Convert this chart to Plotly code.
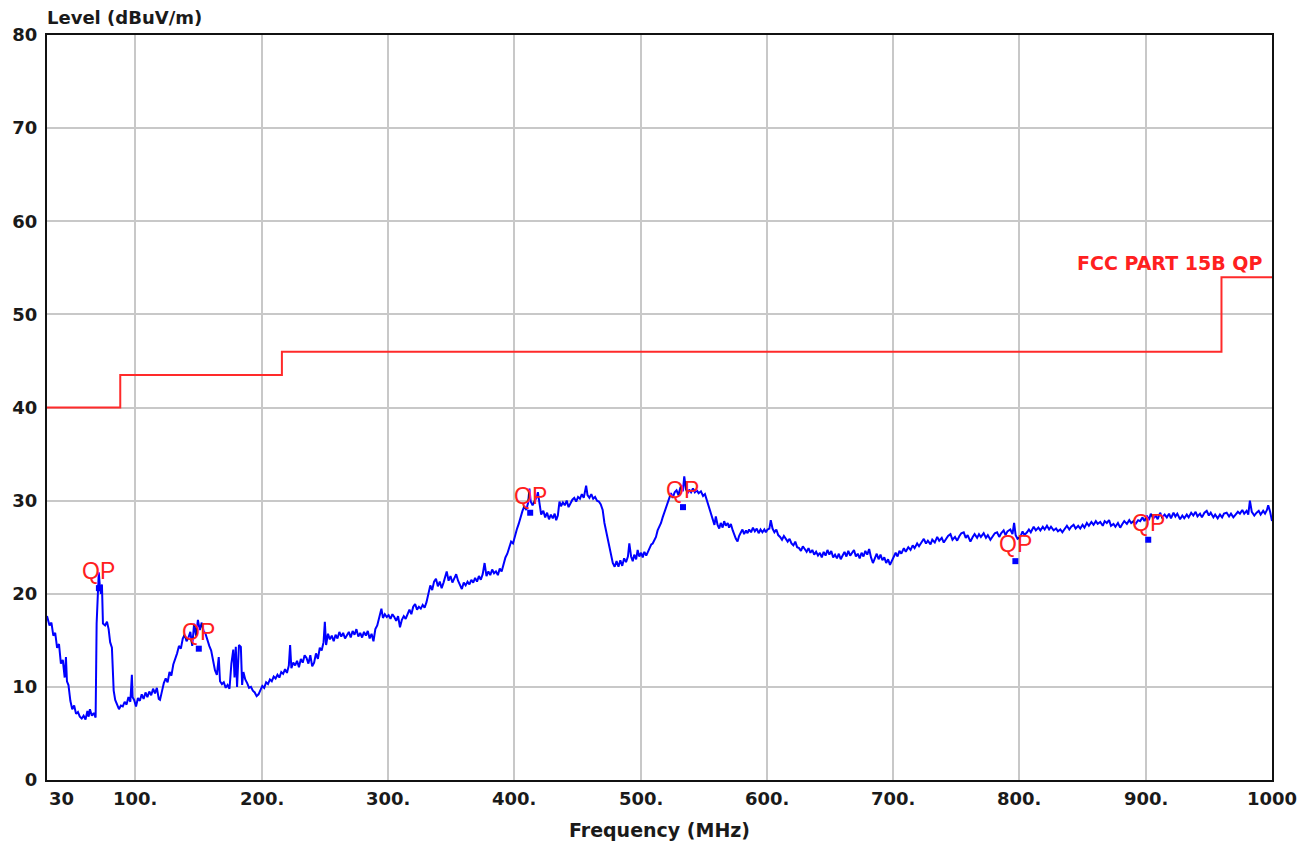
import plotly.graph_objects as go

# Peak scan of radiated emission, 30 MHz - 1 GHz (MHz / dBuV/m)
scan_freq = [
    30, 30.5, 32, 33.5, 35, 36.5, 38, 39.5, 41, 42.5, 44,
    45, 45.8, 47, 48.5, 50, 51.5, 53, 54.5, 56, 57.5,
    59, 60.5, 62, 63, 64, 65.5, 67, 68.5, 69.3, 70.2,
    71, 71.8, 72.7, 73.5, 74.3, 76, 77.5, 78.8, 80, 81.4,
    82.2, 82.8, 84, 85.5, 87, 88.5, 90, 91.5, 93, 94.5,
    96, 97.2, 97.8, 99, 100.5, 102, 103.5, 105, 106.5, 108,
    109.5, 111, 112.5, 114, 115.5, 117, 118.5, 119.5, 121, 122.5,
    124, 125.5, 127, 128.5, 130, 131.5, 133, 134.5, 136, 137.5,
    139, 140.5, 142, 143.5, 145, 146.5, 148, 149.5, 151, 152.5,
    154, 155.5, 157, 158.5, 160, 161.5, 163, 164.5, 166, 167,
    168.5, 170, 171.5, 173, 174.5, 176, 177.5, 178.5, 179.5, 180.5,
    182, 183.5, 184.5, 185.5, 187, 188.5, 190, 191.5, 193, 194.5,
    196, 197.5, 199, 200.5, 202, 203.5, 205, 206.5, 208, 209.5,
    211, 212.5, 214, 215.5, 217, 218.5, 220, 221.5, 222.5, 223.5,
    225, 226.5, 228, 229.5, 231, 232.5, 234, 235.5, 237, 238.5,
    240, 241.5, 243, 244.5, 246, 247.5, 249, 250, 251, 252.5,
    254, 255.5, 257, 258.5, 260, 261.5, 263, 264.5, 266, 267.5,
    269, 270.5, 272, 273.5, 275, 276.5, 278, 279.5, 281, 282.5,
    284, 285.5, 287, 288.5, 290, 291.5, 293, 294.8, 296, 297.5,
    299, 300.5, 302, 303.5, 305, 306.5, 308, 309.5, 311, 312.5,
    314, 315.5, 317, 318.5, 320, 321.5, 323, 324.5, 326, 327.5,
    329, 330.5, 332, 333.5, 335, 336.5, 338, 339.5, 341, 342.5,
    344, 345.5, 346.5, 348, 349.5, 351, 352.5, 354, 355.5, 357,
    358.5, 360, 361.5, 363, 364.5, 366, 367.5, 369, 370.5, 372,
    373.5, 375, 376.5, 378, 379.5, 381, 382.5, 384, 385.5, 387,
    388.5, 390, 391.5, 393, 394.5, 396, 397.5, 399, 400.5, 402,
    403.5, 405, 406.5, 408, 409.5, 411, 412, 413, 414.5, 416,
    417.5, 418.7, 420, 421.3, 423, 424.5, 426, 427.5, 429, 430.5,
    432, 433.2, 434.5, 435.8, 437, 438.5, 440, 441.5, 443, 444.5,
    446, 447.5, 449, 450.5, 452, 453.5, 455, 456.9, 458, 459.5,
    461, 462.5, 464, 465.5, 467, 468.5, 470, 471.4, 472.7, 474,
    475.3, 476.5, 478, 479.5, 481, 482.5, 484, 485.5, 487, 488.5,
    490, 491.1, 492.5, 493.8, 495, 496.5, 497.7, 499, 500.5, 501.7,
    503, 504.5, 505.7, 507, 508.5, 509.6, 511, 512.2, 513.5, 515,
    516.2, 517.5, 519, 520.1, 521.5, 523, 524.1, 525.5, 527, 528.5,
    530, 531.5, 532.5, 533.5, 534.6, 536, 537.5, 538.5, 540, 541.5,
    543, 544.5, 546, 547.8, 549.5, 551, 552.5, 554.3, 555.5, 557,
    558.5, 559.6, 561, 562.3, 563.5, 565, 566.2, 567.5, 569, 570.1,
    571.5, 573, 574.1, 575.5, 576.8, 578, 579.5, 580.7, 582, 583.5,
    584.7, 586, 587.5, 589, 590.5, 592, 593.5, 595, 596.5, 598,
    599.2, 600.5, 602, 603.1, 604.5, 606, 607.5, 609, 610.5, 612,
    613.5, 615, 616.5, 618, 619.5, 621, 622.5, 624, 625.5, 627,
    628.5, 630, 631.5, 633, 634.5, 636, 637.5, 639, 640.5, 642,
    643.5, 645, 646.5, 648, 649.5, 651, 652.5, 654, 655.5, 657,
    658.5, 660, 661.5, 663, 664.5, 666, 667.5, 669, 670.5, 672,
    673.5, 675, 676.5, 678, 679.5, 681, 682.5, 684, 685.5, 687,
    688.5, 690, 691.5, 693, 694.5, 696, 697.5, 699, 700.5, 702,
    703.5, 705, 706.5, 708.5, 710, 712, 713.8, 715.5, 717, 719,
    720.5, 722.5, 724.3, 726, 727.5, 729.6, 731, 733, 734.9, 736.5,
    738.5, 740.1, 742, 743.5, 745.4, 747, 749, 750.7, 752.5, 754,
    755.9, 757.5, 759, 761.2, 763, 764.5, 766.5, 768, 769.5, 771.7,
    773.5, 775, 777, 779, 780.5, 782.3, 784, 785.5, 787.5, 789,
    790.5, 792.8, 794.5, 795.8, 797, 798.5, 800.7, 802.5, 804, 806,
    807.5, 809, 811.3, 813, 815, 816.6, 818.5, 820, 821.8, 823.5,
    825, 827.1, 829, 830.5, 832.4, 834, 836, 837.6, 839.5, 841,
    842.9, 844.5, 846.5, 848.2, 850, 851.5, 853.4, 855, 857, 858.7,
    860.5, 862, 864, 866, 867.5, 869.2, 871, 872.5, 874.5, 876,
    878, 879.8, 881.5, 883, 885.1, 887, 888.5, 890.3, 892, 894,
    895.6, 897.5, 899, 900.9, 902.5, 904, 906.1, 908, 909.5, 911.4,
    913, 915, 916.7, 918.5, 920, 922, 923.5, 925, 927.2, 929,
    930.5, 932.5, 934, 936, 937.7, 939.5, 941, 943, 944.5, 946.5,
    948.3, 950, 951.5, 953.6, 955, 957, 958.8, 960.5, 962, 964.1,
    966, 967.5, 969.4, 971, 973, 974.6, 976.5, 978, 979.9, 981.2,
    982.5, 984, 986, 987.8, 989.5, 991, 993, 994.5, 996, 997,
    998.5, 1000,
]
scan_level = [
    17.6, 17.4, 16.6, 16.9, 15.5, 15.8, 14.2, 14.6, 12.5, 12.9, 11.0,
    13.2, 10.6, 10.2, 8.5, 7.6, 8.0, 7.1, 7.3, 6.8, 6.6,
    6.9, 6.5, 7.4, 6.8, 7.6, 6.9, 7.2, 6.7, 16.8, 20.6,
    22.3, 20.9, 20.0, 21.0, 16.8, 16.6, 17.0, 16.2, 14.8, 14.2,
    11.5, 9.6, 8.6, 8.1, 7.6, 8.0, 7.9, 8.4, 8.1, 8.9,
    8.4, 11.3, 8.9, 8.6, 7.9, 8.8, 8.5, 9.2, 8.7, 9.4,
    8.9, 9.5, 9.1, 9.8, 9.3, 9.9, 8.7, 8.6, 9.7, 10.4,
    10.9, 10.5, 11.6, 11.2, 12.4, 12.9, 13.6, 14.4, 14.1, 15.2,
    15.6, 14.9, 15.3, 15.9, 14.4, 16.8, 15.5, 17.2, 16.1, 16.9,
    16.0, 15.7, 15.0, 14.4, 13.9, 12.6, 11.8, 11.3, 13.2, 10.6,
    10.3, 10.5, 9.9, 10.2, 9.8, 12.5, 14.0, 11.0, 14.3, 10.0,
    14.5, 14.3, 10.2, 11.6, 10.8, 10.4, 9.9, 10.0, 9.6, 9.4,
    9.0, 9.2, 9.7, 10.1, 9.9, 10.5, 10.3, 10.8, 10.6, 11.1,
    10.9, 11.3, 11.0, 11.6, 11.4, 11.9, 11.5, 12.3, 14.5, 12.0,
    12.6, 12.3, 12.8, 12.1, 13.0, 12.6, 13.4, 13.1, 12.5, 13.4,
    12.2, 12.6, 13.6, 13.0, 14.2, 13.9, 14.8, 17.0, 14.5, 15.7,
    15.1, 15.5, 14.9, 15.6, 15.2, 15.9, 15.4, 15.8, 15.2, 15.6,
    15.9, 15.3, 16.0, 15.6, 16.2, 15.4, 15.8, 15.3, 15.9, 15.5,
    16.0, 15.2, 15.7, 14.9, 16.2, 16.6, 17.4, 18.4, 17.4, 17.8,
    17.5, 17.7, 17.3, 17.8, 17.5, 17.1, 17.6, 16.4, 17.2, 17.6,
    17.3, 17.9, 18.3, 17.8, 18.6, 18.9, 18.3, 18.6, 18.4, 18.8,
    18.5, 19.1, 20.2, 20.9, 20.4, 21.3, 21.6, 20.8, 21.3, 20.6,
    21.2, 21.8, 22.4, 21.4, 21.9, 21.2, 21.7, 22.1, 21.4, 20.9,
    20.5, 21.2, 20.9, 21.3, 21.0, 21.5, 21.2, 21.7, 21.3, 21.9,
    21.5, 22.1, 23.3, 21.9, 22.4, 22.0, 22.6, 22.2, 22.4, 22.0,
    22.7, 22.4, 23.2, 23.9, 24.3, 24.9, 25.6, 25.4, 26.3, 26.9,
    27.5, 28.3, 28.9, 29.4, 29.0, 29.8, 31.3, 29.9, 29.5, 29.9,
    30.3, 30.9, 29.4, 28.5, 28.9, 28.2, 28.7, 28.0, 28.5, 28.1,
    28.6, 27.9, 28.4, 29.9, 29.4, 29.8, 29.5, 30.0, 29.3, 29.8,
    30.1, 30.3, 29.9, 30.4, 30.2, 30.7, 30.3, 31.6, 30.6, 30.3,
    30.7, 30.2, 30.4, 30.0, 29.9, 29.6, 29.0, 27.6, 26.7, 25.8,
    25.0, 24.2, 23.3, 22.9, 23.5, 22.9, 23.6, 23.0, 23.8, 23.4,
    24.0, 25.4, 24.0, 23.5, 24.2, 23.7, 24.7, 24.0, 24.4, 23.9,
    24.5, 24.1, 24.5, 24.9, 25.3, 25.4, 25.8, 26.1, 26.8, 27.2,
    27.6, 28.2, 28.8, 29.3, 29.9, 30.4, 30.8, 30.3, 30.9, 31.1,
    30.6, 31.4, 31.6, 31.0, 32.6, 31.2, 30.8, 31.2, 30.9, 31.3,
    30.9, 31.1, 30.8, 31.0, 30.5, 30.7, 30.0, 29.2, 28.6, 28.0,
    27.4, 28.3, 27.4, 27.0, 27.6, 27.1, 27.8, 27.3, 27.6, 27.1,
    27.5, 26.8, 26.3, 25.9, 25.6, 26.2, 26.6, 26.9, 26.4, 26.8,
    26.5, 26.9, 26.6, 27.1, 26.7, 27.0, 26.5, 26.9, 26.6, 26.9,
    26.6, 26.9, 27.0, 27.9, 27.0, 26.6, 26.9, 26.3, 26.1, 25.8,
    26.2, 25.9, 25.6, 25.9, 25.4, 25.2, 25.6, 25.0, 24.9, 24.6,
    25.1, 24.8, 24.5, 24.9, 24.4, 24.7, 24.2, 24.5, 24.1, 24.4,
    23.9, 24.5, 24.1, 24.7, 24.2, 24.6, 23.9, 24.2, 23.8, 24.3,
    23.7, 24.1, 24.5, 24.0, 24.6, 24.1, 24.4, 24.7, 24.0, 24.3,
    23.8, 24.4, 24.0, 24.6, 24.2, 24.8, 23.9, 23.3, 23.8, 24.3,
    23.7, 24.2, 23.6, 23.9, 23.3, 23.7, 23.1, 23.6, 23.9, 24.4,
    24.0, 24.6, 24.3, 24.9, 24.5, 25.0, 24.7, 25.2, 24.9, 25.4,
    25.1, 25.6, 25.9, 25.4, 25.7, 25.3, 25.8, 25.5, 26.1, 25.7,
    26.0, 25.5, 25.9, 26.2, 26.4, 25.8, 26.1, 25.7, 26.2, 26.5,
    26.6, 26.0, 26.3, 25.6, 26.1, 26.4, 26.0, 26.4, 26.1, 26.5,
    26.0, 26.3, 25.8, 26.2, 26.5, 26.6, 26.1, 26.5, 26.8, 26.3,
    26.7, 26.9, 26.4, 27.6, 26.3, 25.9, 26.1, 26.7, 26.3, 26.6,
    26.9, 26.6, 27.2, 26.8, 27.1, 26.8, 27.2, 26.9, 27.3, 26.9,
    27.2, 26.8, 27.0, 26.7, 26.9, 26.6, 27.0, 27.3, 26.9, 27.2,
    27.4, 27.0, 27.3, 27.0, 27.4, 27.1, 27.6, 27.3, 27.7, 27.4,
    27.8, 27.5, 27.7, 27.3, 27.8, 27.6, 27.9, 27.3, 27.5, 27.2,
    27.6, 27.1, 27.5, 27.8, 27.5, 27.9, 27.6, 27.8, 27.5, 27.9,
    27.8, 28.2, 27.8, 28.4, 27.9, 28.6, 28.1, 28.4, 28.0, 28.7,
    28.2, 28.5, 28.2, 28.6, 28.1, 28.7, 28.3, 28.6, 28.0, 28.4,
    28.1, 28.5, 28.2, 28.7, 28.4, 28.8, 28.3, 28.6, 28.2, 28.7,
    28.9, 28.4, 28.7, 28.2, 28.5, 28.1, 28.5, 28.2, 28.6, 28.7,
    28.3, 28.6, 28.2, 28.5, 28.8, 28.6, 29.0, 28.6, 28.9, 28.5,
    30.0, 28.8, 28.4, 28.7, 28.9, 28.5, 28.9, 28.6, 29.0, 29.5,
    28.8, 27.8,
]
assert len(scan_freq) == len(scan_level), (len(scan_freq), len(scan_level))

# FCC Part 15 class B quasi-peak limit (step edges)
limit_freq = [30, 88, 216, 960, 1000]
limit_level = [40, 43.5, 46, 54, 54]
limit_name = "FCC PART 15B QP"

# Quasi-peak final measurements
qp_freq = [71.1, 150.2, 412.6, 533.6, 796.8, 902.0]
qp_level = [20.6, 14.1, 28.7, 29.3, 23.5, 25.8]

x_tick_vals = [30, 100, 200, 300, 400, 500, 600, 700, 800, 900, 1000]
x_tick_text = ["30", "100.", "200.", "300.", "400.", "500.", "600.", "700.", "800.", "900.", "1000"]
y_tick_vals = [0, 10, 20, 30, 40, 50, 60, 70, 80]
x_title = "Frequency (MHz)"
y_title = "Level (dBuV/m)"

LABEL_FONT = "DejaVu Sans"
GRID = "#c8c8c8"

fig = go.Figure()

fig.add_trace(go.Scatter(
    x=scan_freq, y=scan_level, mode="lines",
    line=dict(color="#0000ff", width=2),
    showlegend=False, hoverinfo="skip",
))

fig.add_trace(go.Scatter(
    x=limit_freq, y=limit_level, mode="lines", line_shape="hv",
    line=dict(color="#ff2a2a", width=2),
    showlegend=False, hoverinfo="skip",
))

fig.add_trace(go.Scatter(
    x=qp_freq, y=qp_level, mode="markers",
    marker=dict(symbol="square", size=6, color="#0000ff"),
    showlegend=False, hoverinfo="skip",
))

annotations = []
for f, v in zip(qp_freq, qp_level):
    annotations.append(dict(
        x=f, y=v, xref="x", yref="y", text="QP", showarrow=False,
        yanchor="middle", yshift=17,
        font=dict(family="Liberation Sans", size=23, color="#ff2020"),
    ))

for val, txt in zip(x_tick_vals, x_tick_text):
    annotations.append(dict(
        x=val, y=0, xref="x", yref="paper", text=txt, showarrow=False,
        xanchor="left" if val == x_tick_vals[0] else "center",
        yanchor="top", yshift=-6,
        font=dict(family=LABEL_FONT, size=18, color="#1a1a1a", weight="bold"),
    ))

annotations.append(dict(
    x=0.5, y=0, xref="paper", yref="paper", text=x_title, showarrow=False,
    xanchor="center", yanchor="middle", yshift=-50,
    font=dict(family=LABEL_FONT, size=19, color="#1a1a1a", weight="bold"),
))
annotations.append(dict(
    x=0, y=1, xref="paper", yref="paper", text=y_title, showarrow=False,
    xanchor="left", yanchor="middle", yshift=18, xshift=-2,
    font=dict(family=LABEL_FONT, size=18, color="#1a1a1a", weight="bold"),
))
annotations.append(dict(
    x=limit_freq[-1], y=limit_level[-1], xref="x", yref="y", text=limit_name,
    showarrow=False, xanchor="right", yanchor="bottom", xshift=-8, yshift=1,
    font=dict(family=LABEL_FONT, size=19, color="#ff2020", weight="bold"),
))

fig.update_layout(
    width=1307, height=846, autosize=False,
    margin=dict(l=45, r=35, t=35, b=66),
    paper_bgcolor="white", plot_bgcolor="white",
    annotations=annotations,
    xaxis=dict(
        range=[30, 1000], tickvals=x_tick_vals[1:-1], showticklabels=False,
        showgrid=True, gridcolor=GRID, gridwidth=1.5, zeroline=False,
        showline=True, linecolor="#111111", linewidth=2, mirror=True, ticks="",
    ),
    yaxis=dict(
        range=[0, 80], tickvals=y_tick_vals, ticktext=[str(v) for v in y_tick_vals],
        showgrid=True, gridcolor=GRID, gridwidth=1.5, zeroline=False,
        showline=True, linecolor="#111111", linewidth=2, mirror=True, ticks="",
        ticklabelstandoff=4,
        tickfont=dict(family=LABEL_FONT, size=18, color="#1a1a1a", weight="bold"),
    ),
)

fig.write_html("out.html")
